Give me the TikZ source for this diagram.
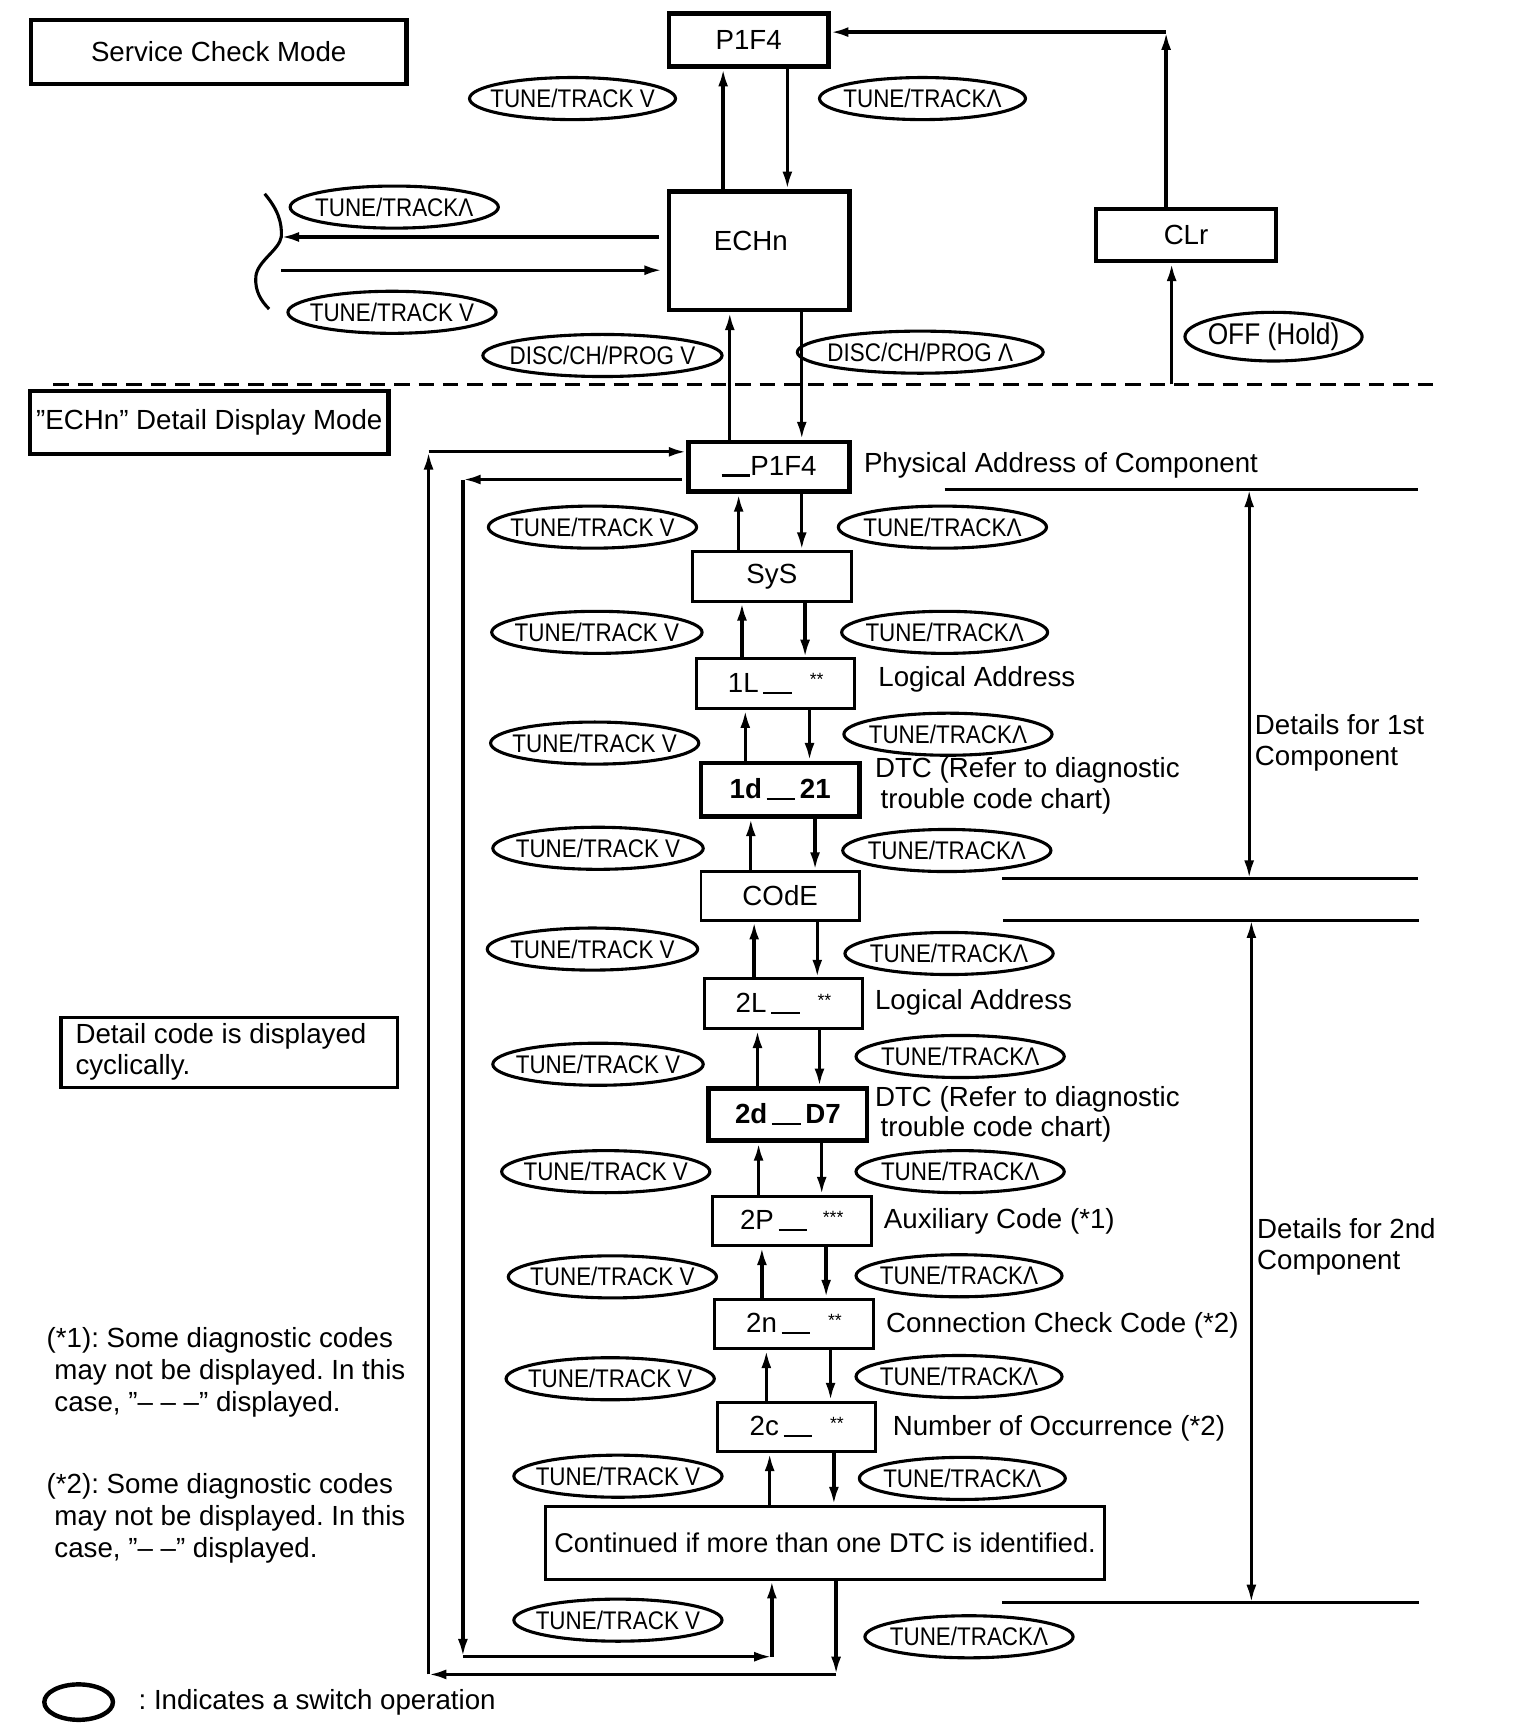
\documentclass[tikz,border=0pt]{standalone}
\usepackage{fontspec}
\setmainfont{Liberation Sans}
\newfontfamily\swfont[FakeStretch=0.88]{Liberation Sans}
\usetikzlibrary{arrows.meta}
\newcommand\ulin{\rule[-1.5pt]{26pt}{2.4pt}}
\newcommand\stars[1]{\raisebox{6pt}{\fontsize{16}{16}\selectfont #1}}
\newcommand\sw[5]{%
  \node[swtxt] (#1) at (#2,#3) {#5};
  \draw[swline] (#1.center) ellipse [x radius=#4, y radius=19];}
\newcommand\updn[4]{%
  \draw[arr] (#3,0 |- #1.north) -- (#3,0 |- #2.south);
  \draw[arr] (#4,0 |- #2.south) -- (#4,0 |- #1.north);}
\begin{document}
\frenchspacing
\begin{tikzpicture}[x=1pt,y=-1pt,
  font=\fontsize{25}{29}\selectfont,
  every node/.style={inner sep=0pt},
  box/.style={draw, line width=2.7pt, inner sep=0pt},
  tbox/.style={box, line width=4.2pt},
  arr/.style={line width=3pt, -{Latex[length=16pt,width=9pt]}},
  dbl/.style={line width=2.8pt, {Latex[length=16pt,width=9pt]}-{Latex[length=16pt,width=9pt]}},
  lbl/.style={anchor=west, align=left},
  swtxt/.style={font=\swfont\fontsize{23}{26}\selectfont},
  swline/.style={line width=2.8pt},
  hline/.style={line width=2.5pt}]
\useasboundingbox (0,0) rectangle (1373,1564);

% ---------- service check mode ----------
\node[tbox, minimum width=339, minimum height=58] (scm) at (197.5,47) {Service Check Mode};
\node[tbox, minimum width=144, minimum height=48] (p1f4) at (676,36) {P1F4};
\node[tbox, minimum width=163, minimum height=107] (echn) at (685.5,226.5) {};
\node (echnt) at (678,218) {ECHn};
\node[tbox, line width=3.6pt, minimum width=162, minimum height=47] (clr) at (1071,212.5) {CLr};
\node[tbox, minimum width=324, minimum height=57] (edm) at (189,381.5) {"ECHn” Detail Display Mode};

\sw{e1}{517}{89}{93}{TUNE/TRACK V}
\sw{e2}{833}{89}{93}{TUNE/TRACKΛ}
\sw{e3}{356}{187}{94}{TUNE/TRACKΛ}
\sw{e4}{354}{282}{94}{TUNE/TRACK V}
\sw{e5}{544}{321}{108}{DISC/CH/PROG V}
\sw{e6}{831}{318}{111}{DISC/CH/PROG Λ}
\node[font=\swfont\fontsize{27}{30}\selectfont] (off) at (1150,304) {OFF (Hold)};
\draw[swline] (off.center) ellipse [x radius=80, y radius=22];

\updn{echn}{p1f4}{653}{711}

\coordinate (cl1) at (1053,29);
\draw[arr] (cl1 |- clr.north) -- (cl1);
\draw[arr] (cl1) -- (p1f4.east |- cl1);
\coordinate (offb) at (1058,347);
\draw[arr] (offb) -- (offb |- clr.south);

\coordinate (bA) at (254,214);
\coordinate (bB) at (254,244);
\draw[arr, shorten <=7pt] (echn.west |- bA) -- (bA);
\draw[arr, shorten >=4pt] (bB) -- (echn.west |- bB);
\draw[line width=2.8pt] (239,175) .. controls (250,188) and (255,200) .. (bA)
  .. controls (252,226) and (232,236) .. (231,250)
  .. controls (230,263) and (236,272) .. (243,279);

\coordinate (dl1) at (48,347);
\coordinate (dl2) at (1295,347);
\draw[line width=2.5pt, dash pattern=on 14pt off 8pt] (dl1) -- (dl2);

% ---------- detail display mode ----------
\node[tbox, minimum width=145, minimum height=45] (p1f4d) at (694.5,421.5) {\ulin P1F4};
\node[box, minimum width=144, minimum height=45] (sys) at (697,520.5) {SyS};
\node[box, minimum width=143, minimum height=45] (l1) at (700.5,617.5) {1L\,\ulin\hspace{16pt}\stars{**}};
\node[tbox, minimum width=143, minimum height=48] (d1) at (704.5,713) {\bfseries 1d\,\ulin\,21};
\node[box, minimum width=143, minimum height=44] (code) at (704.5,809) {COdE};
\node[box, minimum width=143, minimum height=45] (l2) at (707.5,906.5) {2L\,\ulin\hspace{16pt}\stars{**}};
\node[tbox, minimum width=143, minimum height=47] (d2) at (711.5,1006.5) {\bfseries 2d\,\ulin\,D7};
\node[box, minimum width=144, minimum height=45] (p2) at (715,1102.5) {2P\,\ulin\hspace{14pt}\stars{***}};
\node[box, minimum width=144, minimum height=45] (n2) at (717,1195.5) {2n\,\ulin\hspace{16pt}\stars{**}};
\node[box, minimum width=143, minimum height=45] (c2) at (719.5,1288.5) {2c\,\ulin\hspace{16pt}\stars{**}};
\node[box, minimum width=504, minimum height=66, font=\fontsize{24.5}{28}\selectfont] (cont) at (745,1393) {Continued if more than one DTC is identified.};

\updn{p1f4d}{echn}{659}{724}
\updn{sys}{p1f4d}{667}{724}
\updn{l1}{sys}{670}{727}
\updn{d1}{l1}{673}{731}
\updn{code}{d1}{678}{736}
\updn{l2}{code}{681}{738}
\updn{d2}{l2}{684}{740}
\updn{p2}{d2}{685}{742}
\updn{n2}{p2}{688}{746}
\updn{c2}{n2}{692}{750}
\updn{cont}{c2}{695}{753}

% loops
\coordinate (ia) at (697,1496);
\coordinate (ib) at (418,1496);
\coordinate (ic) at (418,433);
\coordinate (oa) at (755,1512);
\coordinate (ob) at (387,1512);
\coordinate (oc) at (387,408);
\draw[arr] (ia) -- (ia |- cont.south);
\draw[arr, shorten <=4pt] (p1f4d.west |- ic) -- (ic);
\draw[arr] (ic) -- (ib);
\draw[arr] (ib) -- (ia);
\draw[arr] (oa |- cont.south) -- (oa);
\draw[arr] (oa) -- (ob);
\draw[arr] (ob) -- (oc);
\draw[arr] (oc) -- (p1f4d.west |- oc);

% switch ellipses, detail section
\sw{a1}{535}{476}{94}{TUNE/TRACK V}
\sw{a2}{539}{571}{95}{TUNE/TRACK V}
\sw{a3}{537}{671}{94}{TUNE/TRACK V}
\sw{a4}{540}{766}{95}{TUNE/TRACK V}
\sw{a5}{535}{857}{95}{TUNE/TRACK V}
\sw{a6}{540}{961}{95}{TUNE/TRACK V}
\sw{a7}{547}{1058}{94}{TUNE/TRACK V}
\sw{a8}{553}{1153}{94}{TUNE/TRACK V}
\sw{a9}{551}{1245}{94}{TUNE/TRACK V}
\sw{a10}{558}{1333}{94}{TUNE/TRACK V}
\sw{a11}{558}{1463}{94}{TUNE/TRACK V}
\sw{b1}{851}{476}{94}{TUNE/TRACKΛ}
\sw{b2}{853}{571}{93}{TUNE/TRACKΛ}
\sw{b3}{856}{663}{94}{TUNE/TRACKΛ}
\sw{b4}{855}{768}{94}{TUNE/TRACKΛ}
\sw{b5}{857}{861}{94}{TUNE/TRACKΛ}
\sw{b6}{867}{954}{94}{TUNE/TRACKΛ}
\sw{b7}{867}{1058}{94}{TUNE/TRACKΛ}
\sw{b8}{866}{1152}{93}{TUNE/TRACKΛ}
\sw{b9}{866}{1243}{93}{TUNE/TRACKΛ}
\sw{b10}{869}{1335}{93}{TUNE/TRACKΛ}
\sw{b11}{875}{1478}{94}{TUNE/TRACKΛ}

% labels
\node[lbl] (lab1) at (780,420) {Physical Address of Component};
\node[lbl] (lab2) at (793,613) {Logical Address};
\node[lbl, font=\fontsize{25}{28}\selectfont] (lab3) at (790,710) {DTC (Refer to diagnostic\\\hspace*{5pt}trouble code chart)};
\node[lbl] (lab4) at (790,905) {Logical Address};
\node[lbl, font=\fontsize{25}{27}\selectfont] (lab5) at (790,1006.5) {DTC (Refer to diagnostic\\\hspace*{5pt}trouble code chart)};
\node[lbl] (lab6) at (798,1103) {Auxiliary Code (*1)};
\node[lbl] (lab7) at (800,1197) {Connection Check Code (*2)};
\node[lbl] (lab8) at (806,1290) {Number of Occurrence (*2)};
\node[lbl, font=\fontsize{25}{28}\selectfont] (lab9) at (1133,671) {Details for 1st\\Component};
\node[lbl, font=\fontsize{25}{28}\selectfont] (lab10) at (1135,1126) {Details for 2nd\\Component};

% component brackets
\coordinate (r1a) at (853,442);  \coordinate (r1b) at (1280,442);
\coordinate (r2a) at (905,793);  \coordinate (r2b) at (1280,793);
\coordinate (r3a) at (906,831);  \coordinate (r3b) at (1281,831);
\coordinate (r4a) at (905,1447); \coordinate (r4b) at (1281,1447);
\draw[hline] (r1a) -- (r1b);
\draw[hline] (r2a) -- (r2b);
\draw[hline] (r3a) -- (r3b);
\draw[hline] (r4a) -- (r4b);
\draw[dbl] (1128,0 |- r1a) -- (1128,0 |- r2a);
\draw[dbl] (1130,0 |- r3a) -- (1130,0 |- r4a);

% notes
\node[box, line width=3pt, minimum width=304, minimum height=63] (note) at (207,950.5) {};
\node[lbl, font=\fontsize{25}{28}\selectfont] (notet) at (68,950) {Detail code is displayed\\cyclically.};
\node[lbl] (nt1) at (42,1239) {(*1): Some diagnostic codes\\\hspace*{7pt}may not be displayed. In this\\\hspace*{7pt}case, "– – –” displayed.};
\node[lbl] (nt2) at (42,1371) {(*2): Some diagnostic codes\\\hspace*{7pt}may not be displayed. In this\\\hspace*{7pt}case, "– –” displayed.};

% legend
\coordinate (legc) at (71,1537);
\draw[line width=4pt] (legc) ellipse [x radius=31, y radius=16];
\node[lbl] (leg) at (125,1537) {: Indicates a switch operation};
\end{tikzpicture}
\end{document}
